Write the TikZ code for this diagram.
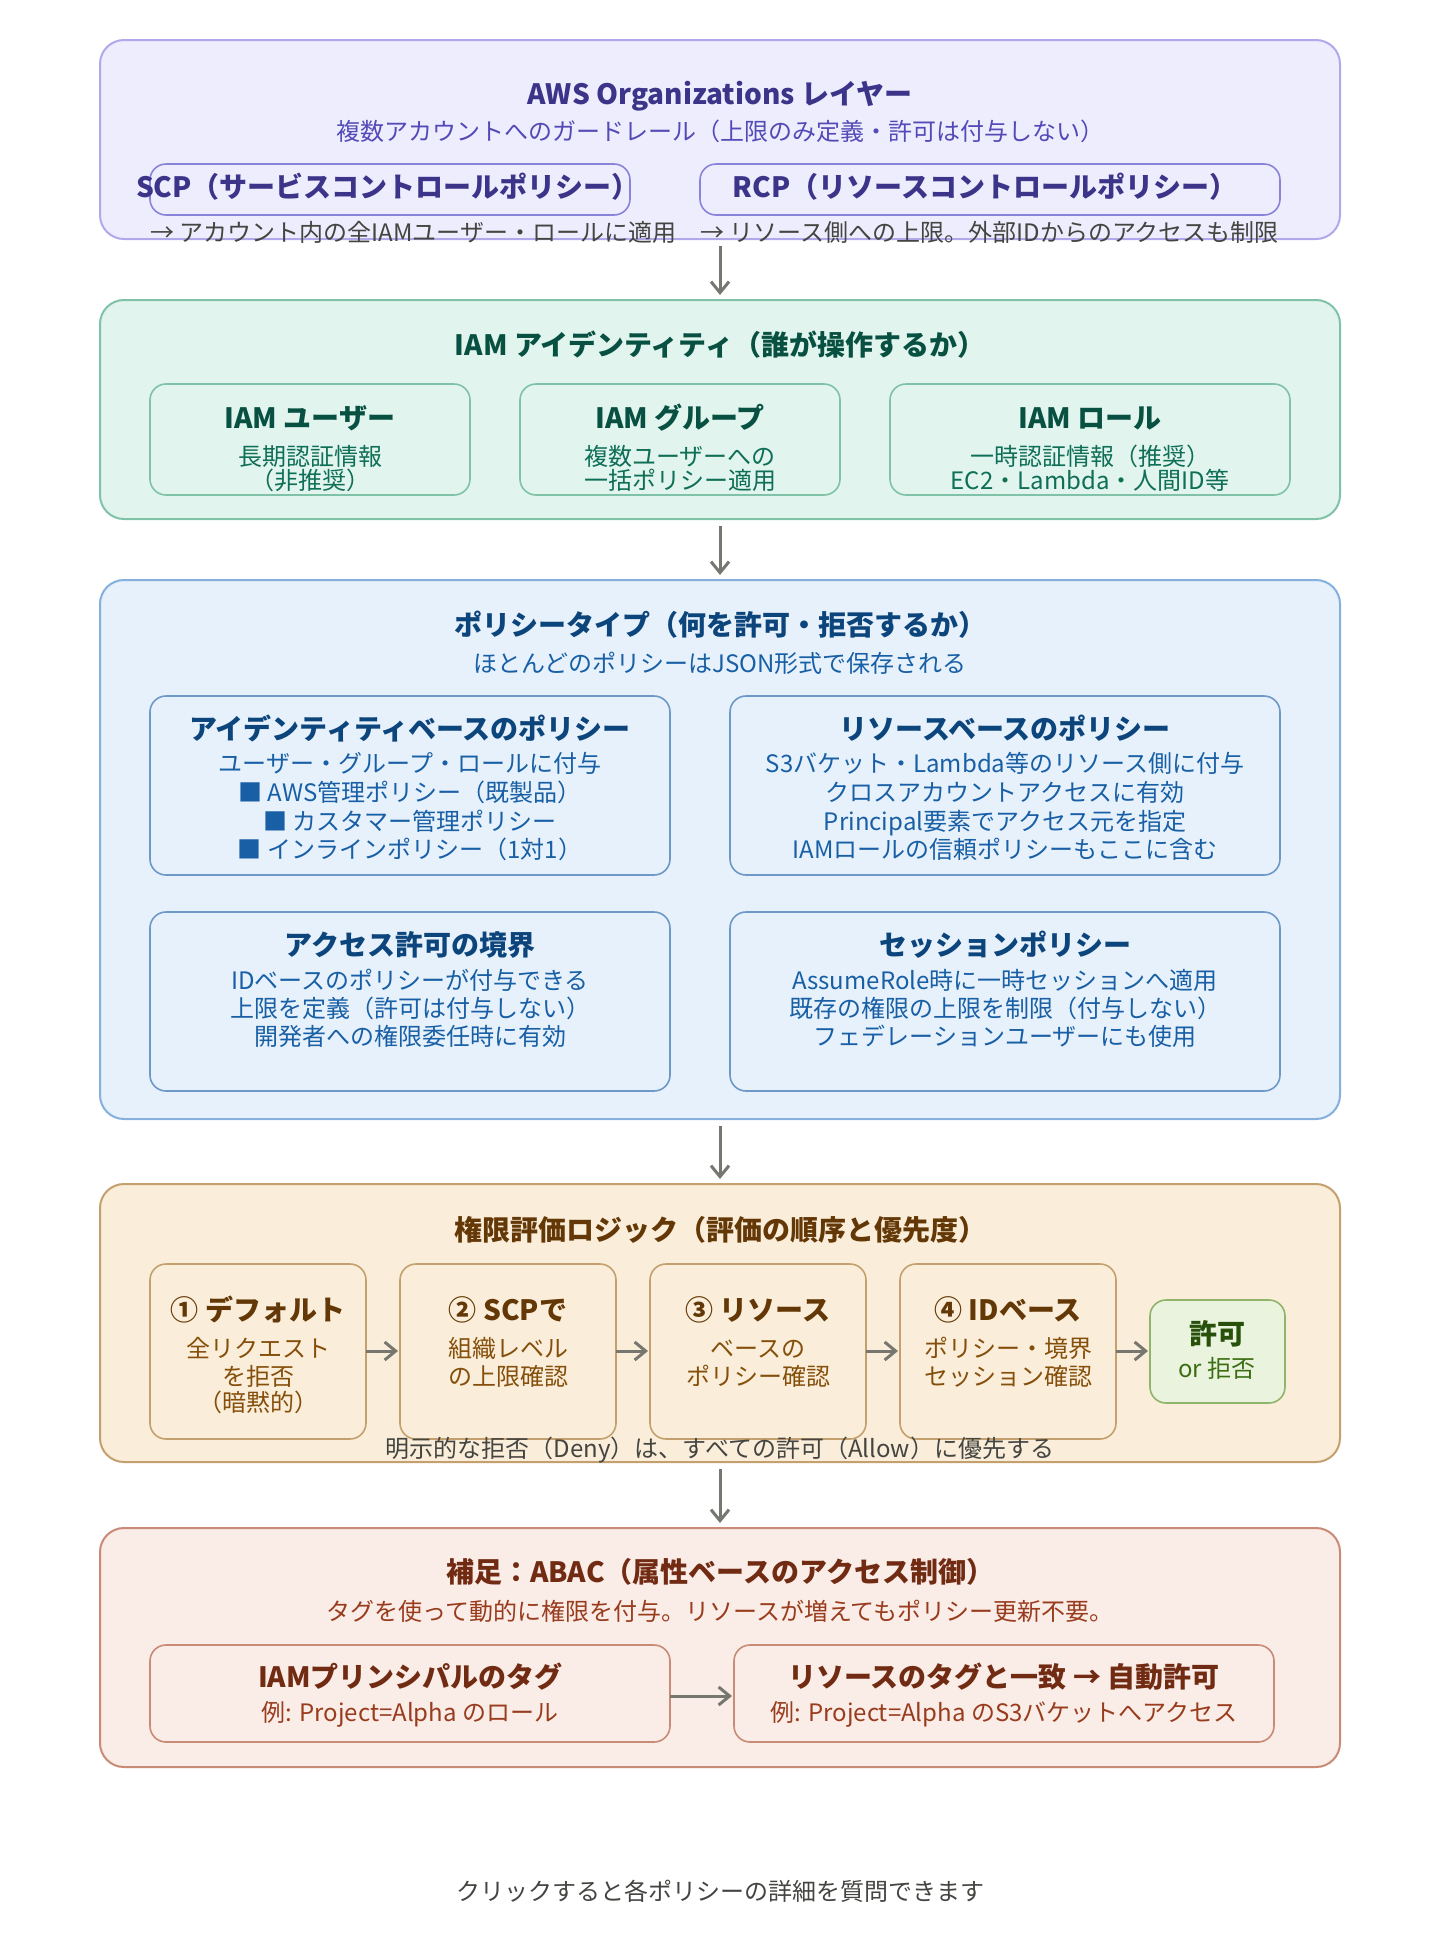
\documentclass[tikz,border=0pt]{standalone}
\usepackage{fontspec}
\setmainfont{Noto Sans CJK JP}
\usetikzlibrary{arrows.meta,fit}
\definecolor{pAfill}{HTML}{EEEDFE}\definecolor{pAline}{HTML}{AFA9EC}\definecolor{pAbox}{HTML}{8A83DA}
\definecolor{pAtitle}{HTML}{3C3489}\definecolor{pAtext}{HTML}{534AB7}
\definecolor{pBfill}{HTML}{E1F5EE}\definecolor{pBline}{HTML}{7FC2A8}\definecolor{pBtitle}{HTML}{085041}\definecolor{pBtext}{HTML}{0F6E56}
\definecolor{pCfill}{HTML}{E6F1FB}\definecolor{pCline}{HTML}{85B0DE}\definecolor{pCbox}{HTML}{6E98C8}\definecolor{pCtitle}{HTML}{0C447C}\definecolor{pCtext}{HTML}{185FA5}
\definecolor{pDfill}{HTML}{FAEEDA}\definecolor{pDline}{HTML}{C4A06E}\definecolor{pDtitle}{HTML}{633806}\definecolor{pDtext}{HTML}{854F0B}
\definecolor{pEfill}{HTML}{EAF3DE}\definecolor{pEline}{HTML}{8FB46A}\definecolor{pEtitle}{HTML}{27500A}\definecolor{pEtext}{HTML}{3B6D11}
\definecolor{pFfill}{HTML}{FAECE7}\definecolor{pFline}{HTML}{C98A76}\definecolor{pFtitle}{HTML}{712B13}\definecolor{pFtext}{HTML}{993C1D}
\definecolor{darktxt}{HTML}{444441}\definecolor{arrowc}{HTML}{77766F}
\begin{document}
\begin{tikzpicture}[x=0.5pt,y=-0.5pt,
  panel/.style={draw, line width=1pt, rounded corners=12pt, inner sep=0pt},
  ibox/.style={draw, line width=0.8pt, rounded corners=8pt, inner sep=0pt},
  txt/.style={inner sep=0pt, text height=1.12em, text depth=0.12em, anchor=center, font=\fontsize{12pt}{14pt}\selectfont},
  ttl/.style={txt, font=\fontsize{14pt}{16pt}\selectfont\bfseries},
  arr/.style={draw=arrowc, line width=1.5pt, -{Straight Barb[length=5.5pt,width=9pt]}},
]
\useasboundingbox (0,0) rectangle (1440,1960);
\fill[white] (0,0) rectangle (1440,1960);

% ---------- Panel 1: Organizations
\node[panel, draw=pAline, fill=pAfill, fit={(100,40) (1340,239)}] (p1) {};
\node[ttl, text=pAtitle] (p1t) at (720,94) {AWS Organizations レイヤー};
\node[txt, text=pAtext] (p1s) at (720,130) {複数アカウントへのガードレール（上限のみ定義・許可は付与しない）};
\node[ibox, draw=pAbox, fit={(150,164) (630,215)}] (scp) {};
\node[ttl, text=pAtitle] (scpt) at (388,187) {SCP（サービスコントロールポリシー）};
\node[ibox, draw=pAbox, fit={(700,164) (1280,215)}] (rcp) {};
\node[ttl, text=pAtitle] (rcpt) at (985,187) {RCP（リソースコントロールポリシー）};
\node[txt, text=darktxt, anchor=west] (scpn) at (150,231) {→ アカウント内の全IAMユーザー・ロールに適用};
\node[txt, text=darktxt, anchor=west] (rcpn) at (700,231) {→ リソース側への上限。外部IDからのアクセスも制限};

% ---------- Panel 2: IAM identity
\node[panel, draw=pBline, fill=pBfill, fit={(100,300) (1340,519)}] (p2) {};
\node[ttl, text=pBtitle] (p2t) at (720,345) {IAM アイデンティティ（誰が操作するか）};
\node[ibox, draw=pBline, fit={(150,384) (470,495)}] (usr) {};
\node[ibox, draw=pBline, fit={(520,384) (840,495)}] (grp) {};
\node[ibox, draw=pBline, fit={(890,384) (1290,495)}] (rol) {};
\node[ttl, text=pBtitle] (usrt) at (310,418) {IAM ユーザー};
\node[txt, text=pBtext] (usr1) at (310,455) {長期認証情報};
\node[txt, text=pBtext] (usr2) at (310,479) {（非推奨）};
\node[ttl, text=pBtitle] (grpt) at (680,418) {IAM グループ};
\node[txt, text=pBtext] (grp1) at (680,455) {複数ユーザーへの};
\node[txt, text=pBtext] (grp2) at (680,479) {一括ポリシー適用};
\node[ttl, text=pBtitle] (rolt) at (1090,418) {IAM ロール};
\node[txt, text=pBtext] (rol1) at (1090,455) {一時認証情報（推奨）};
\node[txt, text=pBtext] (rol2) at (1090,479) {EC2・Lambda・人間ID等};

% ---------- Panel 3: policy types
\node[panel, draw=pCline, fill=pCfill, fit={(100,580) (1340,1119)}] (p3) {};
\node[ttl, text=pCtitle] (p3t) at (720,625) {ポリシータイプ（何を許可・拒否するか）};
\node[txt, text=pCtext] (p3s) at (720,662) {ほとんどのポリシーはJSON形式で保存される};
\node[ibox, draw=pCbox, fit={(150,696) (670,875)}] (idp) {};
\node[ibox, draw=pCbox, fit={(730,696) (1280,875)}] (rsp) {};
\node[ibox, draw=pCbox, fit={(150,912) (670,1091)}] (bnd) {};
\node[ibox, draw=pCbox, fit={(730,912) (1280,1091)}] (ses) {};
\node[ttl, text=pCtitle] (idpt) at (410,729) {アイデンティティベースのポリシー};
\node[txt, text=pCtext] (idp1) at (410,762) {ユーザー・グループ・ロールに付与};
\node[txt, text=pCtext] (idp2) at (410,791) {■ AWS管理ポリシー（既製品）};
\node[txt, text=pCtext] (idp3) at (410,820) {■ カスタマー管理ポリシー};
\node[txt, text=pCtext] (idp4) at (410,848) {■ インラインポリシー（1対1）};
\node[ttl, text=pCtitle] (rspt) at (1005,729) {リソースベースのポリシー};
\node[txt, text=pCtext] (rsp1) at (1005,762) {S3バケット・Lambda等のリソース側に付与};
\node[txt, text=pCtext] (rsp2) at (1005,791) {クロスアカウントアクセスに有効};
\node[txt, text=pCtext] (rsp3) at (1005,820) {Principal要素でアクセス元を指定};
\node[txt, text=pCtext] (rsp4) at (1005,848) {IAMロールの信頼ポリシーもここに含む};
\node[ttl, text=pCtitle] (bndt) at (410,945) {アクセス許可の境界};
\node[txt, text=pCtext] (bnd1) at (410,979) {IDベースのポリシーが付与できる};
\node[txt, text=pCtext] (bnd2) at (410,1007) {上限を定義（許可は付与しない）};
\node[txt, text=pCtext] (bnd3) at (410,1035) {開発者への権限委任時に有効};
\node[ttl, text=pCtitle] (sest) at (1005,945) {セッションポリシー};
\node[txt, text=pCtext] (ses1) at (1005,979) {AssumeRole時に一時セッションへ適用};
\node[txt, text=pCtext] (ses2) at (1005,1007) {既存の権限の上限を制限（付与しない）};
\node[txt, text=pCtext] (ses3) at (1005,1035) {フェデレーションユーザーにも使用};

% ---------- Panel 4: evaluation logic
\node[panel, draw=pDline, fill=pDfill, fit={(100,1184) (1340,1462)}] (p4) {};
\node[ttl, text=pDtitle] (p4t) at (720,1230) {権限評価ロジック（評価の順序と優先度）};
\node[ibox, draw=pDline, fit={(150,1264) (366,1439)}] (s1) {};
\node[ibox, draw=pDline, fit={(400,1264) (616,1439)}] (s2) {};
\node[ibox, draw=pDline, fit={(650,1264) (866,1439)}] (s3) {};
\node[ibox, draw=pDline, fit={(900,1264) (1116,1439)}] (s4) {};
\node[ibox, draw=pEline, fill=pEfill, fit={(1150,1300) (1285,1403)}] (res) {};
\node[ttl, text=pDtitle] (s1t) at (258,1310) {① デフォルト};
\node[txt, text=pDtext] (s1a) at (258,1347) {全リクエスト};
\node[txt, text=pDtext] (s1b) at (258,1375) {を拒否};
\node[txt, text=pDtext] (s1c) at (258,1401) {（暗黙的）};
\node[ttl, text=pDtitle] (s2t) at (508,1310) {② SCPで};
\node[txt, text=pDtext] (s2a) at (508,1347) {組織レベル};
\node[txt, text=pDtext] (s2b) at (508,1375) {の上限確認};
\node[ttl, text=pDtitle] (s3t) at (758,1310) {③ リソース};
\node[txt, text=pDtext] (s3a) at (758,1347) {ベースの};
\node[txt, text=pDtext] (s3b) at (758,1375) {ポリシー確認};
\node[ttl, text=pDtitle] (s4t) at (1008,1310) {④ IDベース};
\node[txt, text=pDtext] (s4a) at (1008,1347) {ポリシー・境界};
\node[txt, text=pDtext] (s4b) at (1008,1375) {セッション確認};
\node[ttl, text=pEtitle] (rest) at (1217,1334) {許可};
\node[txt, text=pEtext] (resa) at (1217,1367) {or 拒否};
\coordinate (s1r) at (366,1351); \coordinate (s2l) at (400,1351);
\coordinate (s2r) at (616,1351); \coordinate (s3l) at (650,1351);
\coordinate (s3r) at (866,1351); \coordinate (s4l) at (900,1351);
\coordinate (s4r) at (1116,1351); \coordinate (resl) at (1150,1351);
\draw[arr, shorten >=1pt] (s1r) -- (s2l);
\draw[arr, shorten >=1pt] (s2r) -- (s3l);
\draw[arr, shorten >=1pt] (s3r) -- (s4l);
\draw[arr, shorten >=1pt] (s4r) -- (resl);
\node[txt, text=darktxt] (note) at (720,1447) {明示的な拒否（Deny）は、すべての許可（Allow）に優先する};

% ---------- Panel 5: ABAC
\node[panel, draw=pFline, fill=pFfill, fit={(100,1528) (1340,1767)}] (p5) {};
\node[ttl, text=pFtitle] (p5t) at (720,1572) {補足：ABAC（属性ベースのアクセス制御）};
\node[txt, text=pFtext] (p5s) at (720,1610) {タグを使って動的に権限を付与。リソースが増えてもポリシー更新不要。};
\node[ibox, draw=pFline, fit={(150,1645) (670,1742)}] (tg1) {};
\node[ibox, draw=pFline, fit={(734,1645) (1274,1742)}] (tg2) {};
\node[ttl, text=pFtitle] (tg1t) at (410,1677) {IAMプリンシパルのタグ};
\node[txt, text=pFtext] (tg1a) at (410,1711) {例: Project=Alpha のロール};
\node[ttl, text=pFtitle] (tg2t) at (1004,1677) {リソースのタグと一致 → 自動許可};
\node[txt, text=pFtext] (tg2a) at (1004,1711) {例: Project=Alpha のS3バケットへアクセス};
\coordinate (tg1r) at (670,1696); \coordinate (tg2l) at (734,1696);
\draw[arr, shorten >=1pt] (tg1r) -- (tg2l);

% ---------- panel-to-panel arrows
\draw[arr, shorten <=3pt, shorten >=2pt] (p1.south) -- (p2.north);
\draw[arr, shorten <=3pt, shorten >=2pt] (p2.south) -- (p3.north);
\draw[arr, shorten <=3pt, shorten >=2pt] (p3.south) -- (p4.north);
\draw[arr, shorten <=3pt, shorten >=2pt] (p4.south) -- (p5.north);

% ---------- footer
\node[txt, text=darktxt] (foot) at (720,1890) {クリックすると各ポリシーの詳細を質問できます};
\end{tikzpicture}
\end{document}
